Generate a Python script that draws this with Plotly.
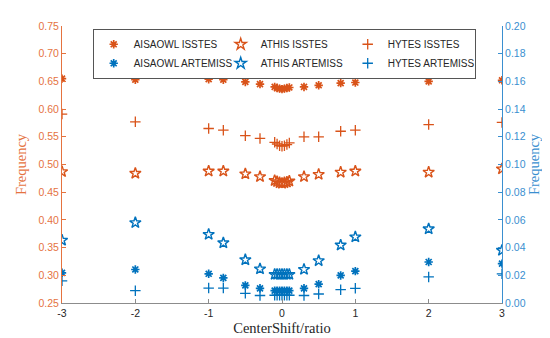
import plotly.graph_objects as go

# x positions (CenterShift/ratio)
x_vals = [-3, -2, -1, -0.8, -0.5, -0.3,
          -0.1, -0.067, -0.033, 0, 0.033, 0.067, 0.1,
          0.3, 0.5, 0.8, 1, 2, 3]

# ISSTES series (left axis)
aisaowl_isstes = [0.655, 0.653, 0.654, 0.653, 0.649, 0.645,
                  0.640, 0.638, 0.637, 0.636, 0.637, 0.638, 0.639,
                  0.640, 0.643, 0.647, 0.648, 0.650, 0.652]
athis_isstes = [0.487, 0.484, 0.488, 0.488, 0.483, 0.478,
                0.471, 0.469, 0.467, 0.466, 0.467, 0.468, 0.470,
                0.478, 0.482, 0.486, 0.488, 0.486, 0.492]
hytes_isstes = [0.591, 0.577, 0.565, 0.562, 0.552, 0.547,
                0.540, 0.537, 0.534, 0.533, 0.534, 0.536, 0.539,
                0.550, 0.550, 0.560, 0.562, 0.572, 0.576]

# ARTEMISS series (right axis)
aisaowl_artemiss = [0.0218, 0.0242, 0.0211, 0.0181, 0.0127, 0.0106,
                    0.0089, 0.0089, 0.0089, 0.0089, 0.0089, 0.0089, 0.0089,
                    0.0106, 0.0136, 0.0199, 0.0230, 0.0296, 0.0284]
athis_artemiss = [0.0453, 0.0580, 0.0495, 0.0434, 0.0312, 0.0246,
                  0.0206, 0.0206, 0.0206, 0.0206, 0.0206, 0.0206, 0.0206,
                  0.0242, 0.0305, 0.0418, 0.0477, 0.0535, 0.0380]
hytes_artemiss = [0.0160, 0.0089, 0.0108, 0.0108, 0.0070, 0.0054,
                  0.0056, 0.0056, 0.0056, 0.0056, 0.0056, 0.0056, 0.0056,
                  0.0054, 0.0065, 0.0096, 0.0106, 0.0188, 0.0211]

x_ticks = [-3, -2, -1, 0, 1, 2, 3]
y_left_ticks = [0.25, 0.30, 0.35, 0.40, 0.45, 0.50, 0.55, 0.60, 0.65, 0.70, 0.75]
y_right_ticks = [0.00, 0.02, 0.04, 0.06, 0.08, 0.10, 0.12, 0.14, 0.16, 0.18, 0.20]

ORANGE = "#D95319"
BLUE = "#0072BD"
LEFT_AX = "#E5733F"
RIGHT_AX = "#3A8FD0"

def asterisk(color):
    return dict(symbol="asterisk-open", size=7, color=color, line=dict(width=1.7, color=color))

def star(color):
    return dict(symbol="star-open", size=8.5, color=color, line=dict(width=1.4, color=color))

def plus(color):
    return dict(symbol="cross-thin-open", size=7.5, color=color, line=dict(width=1.3, color=color))

fig = go.Figure()
fig.add_trace(go.Scatter(x=x_vals, y=aisaowl_isstes, mode="markers", name="AISAOWL ISSTES",
                         marker=asterisk(ORANGE), yaxis="y"))
fig.add_trace(go.Scatter(x=x_vals, y=athis_isstes, mode="markers", name="ATHIS ISSTES",
                         marker=star(ORANGE), yaxis="y"))
fig.add_trace(go.Scatter(x=x_vals, y=hytes_isstes, mode="markers", name="HYTES ISSTES",
                         marker=plus(ORANGE), yaxis="y"))
fig.add_trace(go.Scatter(x=x_vals, y=aisaowl_artemiss, mode="markers", name="AISAOWL ARTEMISS",
                         marker=asterisk(BLUE), yaxis="y2"))
fig.add_trace(go.Scatter(x=x_vals, y=athis_artemiss, mode="markers", name="ATHIS ARTEMISS",
                         marker=star(BLUE), yaxis="y2"))
fig.add_trace(go.Scatter(x=x_vals, y=hytes_artemiss, mode="markers", name="HYTES ARTEMISS",
                         marker=plus(BLUE), yaxis="y2"))

tickfont = dict(family="Liberation Sans, Arial, sans-serif", size=10.5)

fig.update_layout(
    width=550, height=338,
    margin=dict(l=49, r=56, t=12, b=42),
    paper_bgcolor="white", plot_bgcolor="white",
    showlegend=True,
    legend=dict(
        orientation="h", x=0.505, xanchor="center", y=0.99, yanchor="top",
        bgcolor="white", bordercolor="#555555", borderwidth=1,
        font=dict(family="Liberation Sans, Arial, sans-serif", size=10, color="#262626"),
        entrywidth=82, entrywidthmode="pixels", traceorder="normal",
        itemsizing="trace",
    ),
    xaxis=dict(
        range=[-3, 3], tickvals=x_ticks, ticktext=[str(t) for t in x_ticks],
        showgrid=False, zeroline=False, showline=True, linecolor="#8c8c8c", linewidth=1,
        ticks="inside", ticklen=4, tickcolor="#8c8c8c",
        tickfont=dict(tickfont, color="#262626"),
        title=dict(text="CenterShift/ratio", font=dict(family="Liberation Serif, Times New Roman, serif",
                                                      size=14.5, color="#262626"), standoff=5),
    ),
    yaxis=dict(
        range=[0.25, 0.75], tickvals=y_left_ticks, ticktext=[f"{v:.2f}" for v in y_left_ticks],
        showgrid=False, zeroline=False, showline=True, linecolor=LEFT_AX, linewidth=1,
        ticks="inside", ticklen=4, tickcolor=LEFT_AX,
        tickfont=dict(tickfont, color=LEFT_AX),
        title=dict(text="Frequency", font=dict(family="Liberation Serif, Times New Roman, serif",
                                              size=14.5, color=LEFT_AX), standoff=8),
    ),
    yaxis2=dict(
        range=[0, 0.2], tickvals=y_right_ticks, ticktext=[f"{v:.2f}" for v in y_right_ticks],
        overlaying="y", side="right",
        showgrid=False, zeroline=False, showline=True, linecolor=RIGHT_AX, linewidth=1,
        ticks="inside", ticklen=4, tickcolor=RIGHT_AX,
        tickfont=dict(tickfont, color=RIGHT_AX),
        title=dict(text="Frequency", font=dict(family="Liberation Serif, Times New Roman, serif",
                                              size=14.5, color=RIGHT_AX), standoff=3),
    ),
)

fig.write_html("out.html")
